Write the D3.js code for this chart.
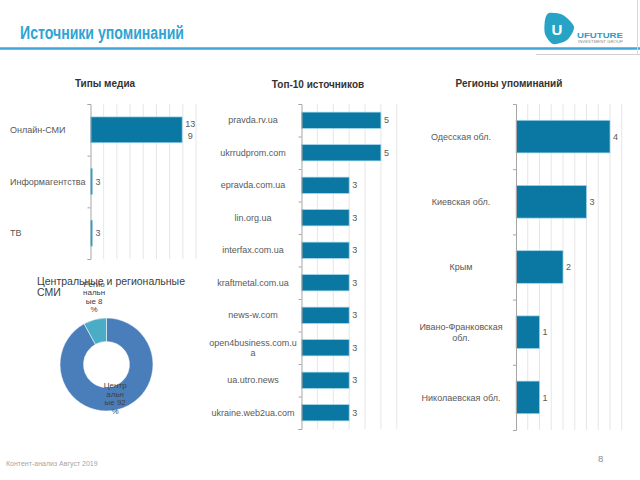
<!DOCTYPE html>
<html><head><meta charset="utf-8">
<script src="https://cdn.jsdelivr.net/npm/d3@7/dist/d3.min.js"></script>
<style>
body{margin:0;background:#fff}
svg{display:block}
text{font-family:"Liberation Sans",Arial,sans-serif}
</style>
</head><body>
<svg id="c" width="640" height="480"></svg>
<script>
// ---------- DATA ----------
const pageTitle = "Источники упоминаний";
const mediaTitle = "Типы медиа";
const mediaTypes = ["Онлайн-СМИ", "Информагентства", "ТВ"];
const mediaValues = [139, 3, 3];
const mediaTicks = [0, 20, 40, 60, 80, 100, 120, 140, 160];

const topTitle = "Топ-10 источников";
const topSources = ["pravda.rv.ua", "ukrrudprom.com", "epravda.com.ua", "lin.org.ua", "interfax.com.ua",
  "kraftmetal.com.ua", "news-w.com", "open4business.com.ua", "ua.utro.news", "ukraine.web2ua.com"];
const topValues = [5, 5, 3, 3, 3, 3, 3, 3, 3, 3];
const topTicks = [0, 1, 2, 3, 4, 5, 6];

const regionTitle = "Регионы упоминаний";
const regions = ["Одесская обл.", "Киевская обл.", "Крым", "Ивано-Франковская обл.", "Николаевская обл."];
const regionValues = [4, 3, 2, 1, 1];
const regionTicks = [0, 0.5, 1, 1.5, 2, 2.5, 3, 3.5, 4, 4.5];

const scopeTitle = ["Центральные и региональные", "СМИ"];
const scopeCategories = ["Центральные", "Региональные"];
const scopeValues = [92, 8];

const footerText = "Контент-анализ Август 2019";
const pageNumber = "8";

// ---------- HELPERS ----------
const svg = d3.select("#c");
const FONT = '"Liberation Sans", Arial, sans-serif';
const ctx = document.createElement("canvas").getContext("2d");
function tw(s, size, weight) { ctx.font = `${weight || "normal"} ${size}px ${FONT}`; return ctx.measureText(s).width; }
function wrapChars(s, size, maxW) {
  const lines = []; let cur = "";
  for (const ch of s) {
    if (cur && tw(cur + ch, size) > maxW) { lines.push(cur.trim()); cur = ch === " " ? "" : ch; }
    else cur += ch;
  }
  if (cur) lines.push(cur.trim());
  return lines;
}
function wrapWords(s, size, maxW) {
  const words = s.split(" "); const lines = []; let cur = "";
  for (const w of words) {
    const t = cur ? cur + " " + w : w;
    if (cur && tw(t, size) > maxW) { lines.push(cur); cur = w; } else cur = t;
  }
  if (cur) lines.push(cur);
  return lines;
}
// split a label at given character indices (narrow text box wrapping as in the original)
function splitAt(s, idx) {
  const out = []; let p = 0;
  idx.forEach(k => { out.push(s.slice(p, k).trim()); p = k; });
  out.push(s.slice(p).trim());
  return out.filter(l => l.length);
}
const BAR = "#0B77A3", BAR_EDGE = "#9fd6ec", AXIS = "#a6a6a6", GRID = "#e6e6e6", LABEL = "#595959";

function hbar(o) {
  const g = svg.append("g");
  const x = d3.scaleLinear().domain(o.domain).range([o.x0, o.x1]);
  const y = d3.scaleBand().domain(o.cats).range([o.y0, o.y1]).paddingInner(0.5).paddingOuter(0.25);
  g.selectAll("line.grid").data(o.ticks.filter(t => t > 0)).join("line")
    .attr("x1", d => x(d)).attr("x2", d => x(d)).attr("y1", o.y0).attr("y2", o.y1)
    .attr("stroke", GRID).attr("stroke-width", 1);
  g.selectAll("rect").data(o.cats).join("rect")
    .attr("x", x(0)).attr("y", d => y(d))
    .attr("width", (d, i) => x(o.vals[i]) - x(0)).attr("height", y.bandwidth())
    .attr("fill", BAR).attr("stroke", BAR_EDGE).attr("stroke-width", 0.7);
  const ax = d3.axisLeft(d3.scaleLinear().domain([0, o.cats.length]).range([o.y0, o.y1]))
    .tickValues(d3.range(o.cats.length + 1)).tickSize(3).tickFormat("");
  const axg = g.append("g").attr("transform", `translate(${x(0)},0)`).call(ax);
  axg.select(".domain").attr("stroke", AXIS);
  axg.selectAll(".tick line").attr("stroke", AXIS);
  o.cats.forEach((c, i) => {
    const lines = o.catWrap(c);
    const lh = 10.5;
    const cy = y(c) + y.bandwidth() / 2 - (lines.length - 1) * lh / 2 + 3.2;
    const t = g.append("text").attr("font-size", 9).attr("fill", LABEL).attr("text-anchor", o.labelAnchor);
    lines.forEach((l, j) => t.append("tspan").attr("x", o.labelX).attr("y", cy + j * lh).text(l));
  });
  o.vals.forEach((v, i) => {
    const lines = o.valWrap ? o.valWrap(String(v)) : [String(v)];
    const w = d3.max(lines, l => tw(l, 9));
    const lh = 11.5;
    const cy = y(o.cats[i]) + y.bandwidth() / 2 - (lines.length - 1) * lh / 2 + 3.2;
    const t = g.append("text").attr("font-size", 9).attr("fill", LABEL).attr("text-anchor", "middle");
    lines.forEach((l, j) => t.append("tspan").attr("x", x(v) + 3 + w / 2).attr("y", cy + j * lh).text(l));
  });
  g.append("text").attr("x", o.titleX).attr("y", o.titleY).attr("text-anchor", "middle")
    .attr("font-size", 10).attr("font-weight", "bold").attr("fill", "#333").text(o.title);
}

// ---------- HEADER ----------
svg.append("text").attr("x", 20).attr("y", 39).attr("font-size", 18).attr("font-weight", "bold")
  .attr("fill", "#2DA4D4").attr("textLength", 164).attr("lengthAdjust", "spacingAndGlyphs").text(pageTitle);
svg.append("line").attr("x1", 0).attr("x2", 640).attr("y1", 48.5).attr("y2", 48.5)
  .attr("stroke", "#3FA7D6").attr("stroke-width", 2.5);
svg.append("line").attr("x1", 536).attr("x2", 640).attr("y1", 54.5).attr("y2", 54.5).attr("stroke", "#d0d0d0");
svg.append("line").attr("x1", 637.5).attr("x2", 637.5).attr("y1", 0).attr("y2", 55).attr("stroke", "#d8d8d8");
const blob = [[549, 13], [563, 15], [574, 27], [567, 40], [553, 44], [545, 34], [545, 20]];
svg.append("path").attr("d", d3.line().curve(d3.curveCardinalClosed.tension(0.2))(blob)).attr("fill", "#27A3C6");
svg.append("text").attr("x", 557).attr("y", 35).attr("text-anchor", "middle").attr("font-size", 15)
  .attr("font-weight", "bold").attr("fill", "#fff").text("U");
svg.append("text").attr("x", 577).attr("y", 37.5).attr("font-size", 8).attr("font-weight", "bold")
  .attr("fill", "#2A9EC4").attr("textLength", 46).attr("lengthAdjust", "spacingAndGlyphs").text("UFUTURE");
svg.append("text").attr("x", 578).attr("y", 42.5).attr("font-size", 3).attr("fill", "#8a8a8a")
  .attr("textLength", 45).attr("lengthAdjust", "spacingAndGlyphs").text("INVESTMENT GROUP");

// ---------- CHARTS ----------
hbar({
  title: mediaTitle, titleX: 105, titleY: 87,
  cats: mediaTypes, vals: mediaValues, ticks: mediaTicks, domain: [0, 160],
  x0: 90.5, x1: 196, y0: 104, y1: 259,
  labelX: 10, labelAnchor: "start", catWrap: s => [s],
  valWrap: s => wrapChars(s, 9, 11)
});
hbar({
  title: topTitle, titleX: 318, titleY: 88,
  cats: topSources, vals: topValues, ticks: topTicks, domain: [0, 6],
  x0: 301.5, x1: 396.8, y0: 104, y1: 429,
  labelX: 253, labelAnchor: "middle", catWrap: s => wrapChars(s, 9, 88)
});
hbar({
  title: regionTitle, titleX: 509, titleY: 87,
  cats: regions, vals: regionValues, ticks: regionTicks, domain: [0, 4.5],
  x0: 516, x1: 621.75, y0: 104, y1: 430,
  labelX: 461, labelAnchor: "middle", catWrap: s => wrapWords(s, 9, 86)
});

// ---------- DONUT ----------
const cx = 106.5, cy = 364.5, rO = 46.5, rI = 23;
const pie = d3.pie().sort(null)(scopeValues);
const arc = d3.arc().innerRadius(rI).outerRadius(rO);
const dg = svg.append("g").attr("transform", `translate(${cx},${cy})`);
const dColors = ["#4A7EBB", "#4BACC6"];
dg.selectAll("path").data(pie).join("path").attr("d", arc)
  .attr("fill", (d, i) => dColors[i]).attr("stroke", "#fff").attr("stroke-width", 0.5);
const st = svg.append("text").attr("font-size", 10.5).attr("fill", "#404040");
scopeTitle.forEach((l, j) => st.append("tspan").attr("x", 37).attr("y", 285 + j * 11).text(l));
const labelBreaks = [[5, 9, 14], [5, 10, 14]];
pie.forEach((p, i) => {
  const mid = (p.startAngle + p.endAngle) / 2;
  const r = i === 0 ? (rI + rO) / 2 : 70;
  let lx = Math.sin(mid) * r, ly = -Math.cos(mid) * r;
  if (i === 1) lx += 5;
  const lines = splitAt(`${scopeCategories[i]} ${scopeValues[i]}%`, labelBreaks[i]);
  const lh = 8.5;
  const t = dg.append("text").attr("font-size", 8).attr("fill", "#404040").attr("text-anchor", "middle");
  lines.forEach((l, j) => t.append("tspan").attr("x", lx)
    .attr("y", ly - (lines.length - 1) * lh / 2 + j * lh + 3).text(l));
});

// ---------- FOOTER ----------
svg.append("text").attr("x", 6).attr("y", 466).attr("font-size", 7).attr("fill", "#a6a6a6").text(footerText);
svg.append("text").attr("x", 598).attr("y", 462).attr("font-size", 9.5).attr("fill", "#8c8c8c").text(pageNumber);
</script>
</body></html>
